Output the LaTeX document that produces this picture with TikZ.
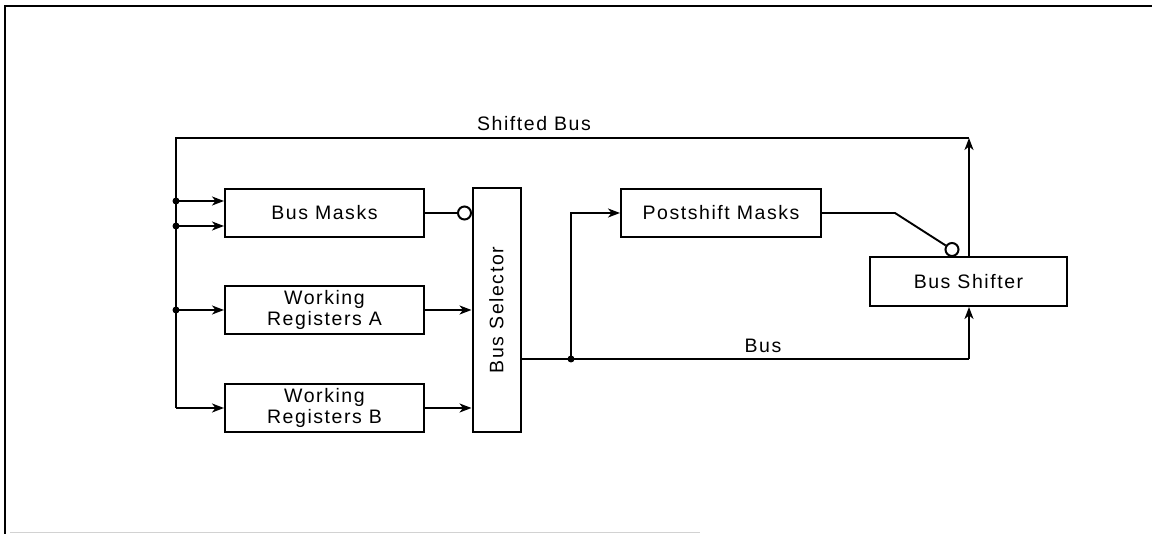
\documentclass[tikz,border=0pt]{standalone}
\usepackage{fontspec}
\setmainfont{Liberation Sans}[LetterSpace=8]
\usetikzlibrary{arrows.meta,calc}
\begin{document}
\begin{tikzpicture}[x=1pt,y=-1pt,
  line width=1.9pt,
  blk/.style={draw, line width=2pt, minimum width=199pt, minimum height=48pt, inner sep=0pt, align=center,
    font=\fontsize{19.5}{21}\selectfont},
  lbl/.style={font=\fontsize{19.5}{21}\selectfont},
  arr/.style={-{Stealth[length=12pt,width=9pt,inset=3.5pt]}},
  jdot/.style={circle, fill, inner sep=0pt, minimum size=7pt},
  inv/.style={circle, draw, line width=2pt, inner sep=0pt, minimum size=13pt, fill=white}]
\useasboundingbox (0,0) rectangle (1152,534);
% frame
\draw[line width=2.6pt] (5,534) -- (5,6) -- (1152,6);
\draw[gray!35, line width=1.5pt] (10,532.5) -- (700,532.5);

% blocks
\node[blk] (bm)  at (324.5,213) {Bus Masks};
\node[blk] (wra) at (324.5,310) {Working\\Registers A};
\node[blk] (wrb) at (324.5,408) {Working\\Registers B};
\node[blk, minimum width=48pt, minimum height=244pt] (bsel) at (496.5,310) {};
\node[lbl, rotate=90] (bseltxt) at (bsel.center) {Bus Selector};
\node[blk, minimum width=200pt] (psm) at (721,213) {Postshift Masks};
\node[blk, minimum width=197pt, minimum height=49pt] (bsh) at (968.5,281.5) {Bus Shifter};

% coordinates
\coordinate (tl) at (176,138);
\coordinate (tr) at (969,138);
\coordinate (j1) at (176,201);
\coordinate (j2) at (176,226);
\coordinate (j3) at (176,310);
\coordinate (j4) at (176,408);
\coordinate (j5) at (571,359);
\coordinate (br) at (969,359);
\coordinate (pk) at (571,213);
\coordinate (bend) at (895,213);

% left distribution bus and shifted bus
\draw (j4) -- (tl) -- (tr);
\draw[arr] (bsh.north -| tr) -- (tr);
\draw[arr] (j1) -- (j1 -| bm.west);
\draw[arr] (j2) -- (j2 -| bm.west);
\draw[arr] (j3) -- (j3 -| wra.west);
\draw[arr] (j4) -- (j4 -| wrb.west);
\node[jdot] at (j1) {};
\node[jdot] at (j2) {};
\node[jdot] at (j3) {};

% into bus selector
\node[inv] (inv1) at ($(bsel.west |- bm.east)+(-7,0)$) {};
\draw (bm.east) -- (inv1.west);
\draw[arr] (wra.east) -- (wra.east -| bsel.west);
\draw[arr] (wrb.east) -- (wrb.east -| bsel.west);

% bus
\draw (bsel.east |- j5) -- (j5) -- (br);
\draw[arr] (br) -- (br |- bsh.south);
\node[jdot] at (j5) {};
\draw[arr] (j5) -- (pk) -- (psm.west);

% postshift masks to shifter
\node[inv] (inv2) at ($(bsh.north -| 952,0)+(0,-6.5)$) {};
\draw (psm.east) -- (bend) -- (inv2);

% labels
\node[lbl, anchor=base] (lsb) at (534,131) {Shifted Bus};
\node[lbl, anchor=base] (lbus) at (763,353) {Bus};
\end{tikzpicture}
\end{document}
